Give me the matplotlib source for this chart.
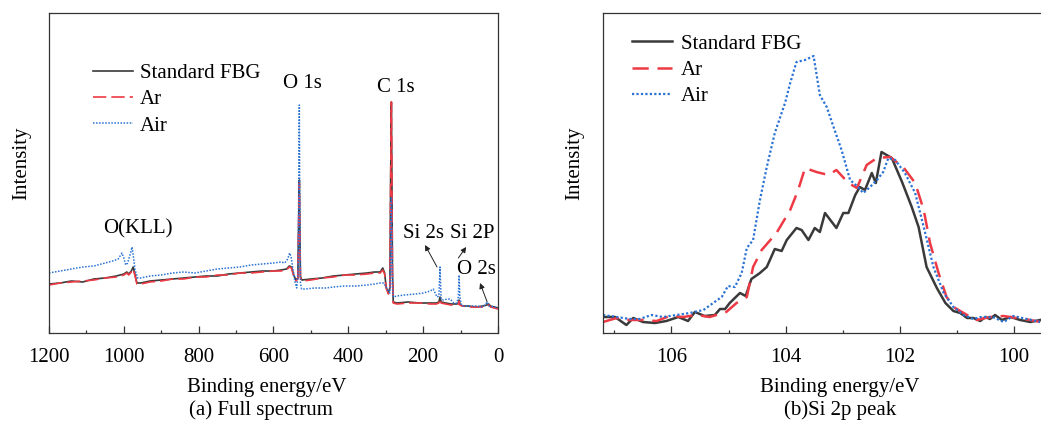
"""
XPS spectra of the FBG samples: (a) full survey scan, (b) Si 2p region.
Intensities are in arbitrary units read off the original figure.
"""

import numpy as np
import matplotlib
matplotlib.use("Agg")
import matplotlib.pyplot as plt

# ---- (a) full spectrum -------------------------------------------------
full_fbg_e = [1200, 1170, 1140, 1110, 1080, 1050, 1020, 1000, 992, 987, 980, 975, 970, 965,
              955, 930, 900, 870, 840, 810, 780, 750, 720, 690, 660, 630, 600, 580, 565, 558,
              552, 546, 540, 535, 532, 531, 530, 528, 524, 500, 470, 440, 410, 380, 350, 330,
              315, 308, 303, 299, 293, 289, 287, 285, 284, 282, 280, 270, 240, 210, 180, 165,
              158, 155, 152, 140, 125, 110, 106, 104, 102, 95, 80, 60, 40, 30, 25, 20, 10, 0]
full_fbg_i = [49, 50, 52, 51, 54, 55, 57, 59, 61, 59, 62, 66, 58, 50,
              50, 52, 53, 54, 55, 56, 57, 57, 59, 60, 61, 62, 62, 63, 64, 67,
              66, 58, 53, 55, 130, 153, 120, 56, 53, 54, 55, 57, 58, 59, 60, 61,
              61, 65, 60, 46, 40, 45, 150, 231, 180, 60, 31, 30, 31, 30, 30, 30,
              31, 36, 31, 30, 29, 29, 30, 33, 29, 27, 27, 26, 27, 28, 29, 27, 26, 25]

full_ar_e = full_fbg_e
full_ar_i = [48, 50, 51, 52, 53, 55, 56, 58, 60, 58, 61, 64, 57, 49,
             49, 51, 52, 54, 54, 56, 56, 58, 58, 60, 60, 61, 62, 62, 63, 66,
             65, 57, 52, 54, 128, 150, 118, 55, 52, 53, 55, 56, 58, 58, 59, 60,
             60, 63, 59, 45, 39, 44, 148, 231, 178, 58, 30, 29, 30, 30, 29, 29,
             30, 34, 30, 29, 28, 28, 29, 32, 28, 27, 26, 26, 26, 27, 28, 26, 25, 24]

full_air_e = [1200, 1170, 1140, 1110, 1080, 1050, 1030, 1015, 1005, 1000, 995, 990, 982, 978,
              974, 970, 963, 955, 930, 900, 870, 840, 810, 780, 750, 720, 690, 660, 630, 600,
              580, 570, 562, 557, 553, 548, 543, 538, 534, 532, 531, 530, 528, 525, 515, 490,
              460, 440, 410, 380, 350, 330, 315, 305, 300, 296, 292, 289, 287, 285, 284, 282,
              280, 270, 250, 220, 200, 181, 173, 168, 163, 158, 156, 155, 154, 152, 146, 135,
              128, 118, 110, 106, 104, 102, 98, 93, 80, 60, 45, 35, 29, 24, 10, 0]
full_air_i = [60, 62, 64, 66, 67, 70, 72, 74, 80, 75, 68, 70, 80, 86,
              75, 63, 55, 55, 57, 58, 60, 61, 60, 62, 64, 65, 66, 68, 69, 70,
              71, 70, 74, 80, 76, 64, 52, 45, 60, 180, 228, 150, 50, 44, 44, 45,
              45, 46, 47, 47, 48, 49, 50, 50, 46, 44, 41, 40, 80, 136, 100, 45,
              36, 37, 38, 39, 40, 42, 44, 40, 36, 37, 55, 66, 55, 34, 33, 34,
              34, 30, 30, 36, 58, 36, 28, 27, 27, 27, 26, 28, 31, 27, 26, 25]

# ---- (b) Si 2p region --------------------------------------------------
si_fbg_e = [107.2, 106.99, 106.79, 106.67, 106.50, 106.29, 106.09, 105.88, 105.71, 105.59,
            105.42, 105.24, 105.15, 105.06, 104.98, 104.80, 104.70, 104.60, 104.45, 104.33,
            104.19, 104.07, 103.98, 103.81, 103.72, 103.60, 103.49, 103.40, 103.31, 103.11,
            102.99, 102.90, 102.78, 102.70, 102.61, 102.49, 102.42, 102.32, 102.14, 101.96,
            101.79, 101.67, 101.53, 101.35, 101.20, 101.06, 100.94, 100.82, 100.71, 100.59,
            100.50, 100.42, 100.33, 100.21, 100.06, 99.89, 99.71, 99.54]
si_fbg_i = [16, 16, 8, 15, 11, 10, 12, 16, 12, 21,
            17, 18, 24, 24, 30, 40, 37, 54, 60, 66,
            84, 82, 93, 105, 103, 93, 105, 101, 120, 105,
            120, 120, 138, 146, 143, 160, 150, 181, 175, 151,
            126, 106, 66, 45, 30, 22, 20, 15, 15, 12,
            16, 14, 18, 13, 16, 13, 11, 13]

si_ar_e = [107.2, 106.96, 106.73, 106.50, 106.26, 106.03, 105.80, 105.56, 105.33, 105.04,
           104.86, 104.68, 104.57, 104.42, 104.16, 103.92, 103.78, 103.66, 103.46, 103.25,
           103.11, 102.90, 102.75, 102.58, 102.40, 102.17, 101.94, 101.73, 101.58, 101.47,
           101.32, 101.18, 101.03, 100.82, 100.65, 100.42, 100.18, 99.95, 99.71, 99.54]
si_ar_i = [11, 15, 13, 13, 12, 17, 16, 18, 16, 21,
           30, 36, 66, 83, 100, 123, 143, 165, 161, 158,
           163, 150, 145, 168, 175, 176, 166, 150, 123, 90,
           60, 36, 25, 18, 13, 16, 17, 15, 13, 11]

si_air_e = [107.2, 106.96, 106.73, 106.56, 106.35, 106.15, 105.91, 105.68, 105.44, 105.27,
            105.12, 105.01, 104.89, 104.77, 104.68, 104.57, 104.45, 104.33, 104.19, 104.01,
            103.92, 103.81, 103.66, 103.51, 103.40, 103.28, 103.16, 103.02, 102.87, 102.75,
            102.64, 102.52, 102.40, 102.29, 102.20, 102.08, 101.91, 101.73, 101.58, 101.41,
            101.23, 101.06, 100.88, 100.71, 100.58, 100.37, 100.18, 100.01, 99.77, 99.54]
si_air_i = [18, 16, 14, 14, 18, 16, 18, 20, 23, 30,
            36, 47, 46, 60, 85, 93, 133, 166, 200, 230,
            250, 271, 273, 277, 238, 226, 206, 183, 153, 147,
            140, 146, 153, 161, 175, 173, 160, 140, 106, 66,
            40, 26, 18, 14, 16, 16, 11, 17, 14, 11]

series_labels = ["Standard FBG", "Ar", "Air"]

BLACK = "#3a3a3a"
RED = "#ee3a44"
BLUE = "#2a72d4"

plt.rcParams["font.family"] = ["Liberation Serif", "DejaVu Serif"]
plt.rcParams["font.size"] = 15

W, H = 1041, 429
fig = plt.figure(figsize=(W / 100, H / 100), dpi=100)


def px_axes(x0, x1, y0, y1):
    """Axes from pixel box (left, right, top, bottom)."""
    return fig.add_axes([x0 / W, 1 - y1 / H, (x1 - x0) / W, (y1 - y0) / H])


def style_axes(ax):
    for s in ax.spines.values():
        s.set_linewidth(0.9)
        s.set_color("#333333")
    ax.set_yticks([])
    ax.tick_params(axis="x", which="major", direction="in", length=5, width=0.9,
                   pad=11, labelsize=15, color="#333333")
    ax.tick_params(axis="x", which="minor", direction="in", length=2.5, width=0.9,
                   color="#333333")
    ax.set_ylim(0, 320)
    ax.set_xlabel("Binding energy/eV", fontsize=15)
    ax.set_ylabel("Intensity", fontsize=15)


# ---- panel (a)
ax1 = px_axes(49, 498, 13, 333)
ax1.plot(full_fbg_e, full_fbg_i, color=BLACK, lw=1.2, label=series_labels[0])
ax1.plot(full_ar_e, full_ar_i, color=RED, lw=1.2, ls=(0, (8, 3)), label=series_labels[1])
ax1.plot(full_air_e, full_air_i, color=BLUE, lw=1.1, ls=(0, (1, 1)), label=series_labels[2])
ax1.set_xlim(1200, 0)
ax1.set_xticks(np.arange(0, 1201, 200))
ax1.set_xticks(np.arange(100, 1200, 200), minor=True)
style_axes(ax1)
ax1.xaxis.set_label_coords(0.486, -0.142)
ax1.yaxis.set_label_coords(-0.04, 0.53)
ax1.legend(loc="upper left", bbox_to_anchor=(0.098, 0.842), frameon=False,
           handlelength=1.9, handletextpad=0.35, labelspacing=0.32,
           borderpad=0, borderaxespad=0, fontsize=15)

# peak labels
ax1.text(962, 104, "O(KLL)", ha="center", va="center")
ax1.text(523, 249, "O 1s", ha="center", va="center")
ax1.text(272, 246, "C 1s", ha="center", va="center")
ax1.text(200, 100, "Si 2s", ha="center", va="center")
ax1.text(69, 100, "Si 2P", ha="center", va="center")
ax1.text(58, 63, "O 2s", ha="center", va="center")
arrow = dict(arrowstyle="-|>", color="#222222", lw=0.7, mutation_scale=8,
             shrinkA=0, shrinkB=0)
ax1.annotate("", xy=(195, 88), xytext=(163, 66), arrowprops=arrow)
ax1.annotate("", xy=(85, 86), xytext=(106, 75), arrowprops=arrow)
ax1.annotate("", xy=(48, 50), xytext=(29, 31), arrowprops=arrow)

# ---- panel (b)
ax2 = px_axes(603, 1043, 13, 333)
ax2.plot(si_fbg_e, si_fbg_i, color=BLACK, lw=1.8, label=series_labels[0])
ax2.plot(si_ar_e, si_ar_i, color=RED, lw=1.8, ls=(0, (6.5, 3.5)), label=series_labels[1])
ax2.plot(si_air_e, si_air_i, color=BLUE, lw=1.6, ls=(0, (1, 1)), label=series_labels[2])
ax2.set_xlim(107.2, 99.49)
ax2.set_xticks([106, 104, 102, 100])
ax2.set_xticks([107, 105, 103, 101], minor=True)
style_axes(ax2)
ax2.xaxis.set_label_coords(0.539, -0.142)
ax2.yaxis.set_label_coords(-0.042, 0.53)
ax2.legend(loc="upper left", bbox_to_anchor=(0.066, 0.934), frameon=False,
           handlelength=1.9, handletextpad=0.45, labelspacing=0.32,
           borderpad=0, borderaxespad=0, fontsize=15)

fig.text(261 / W, 1 - 410 / H, "(a) Full spectrum", ha="center", va="center", fontsize=15)
fig.text(840 / W, 1 - 410 / H, "(b)Si 2p peak", ha="center", va="center", fontsize=15)

fig.savefig("out.png", dpi=100)
